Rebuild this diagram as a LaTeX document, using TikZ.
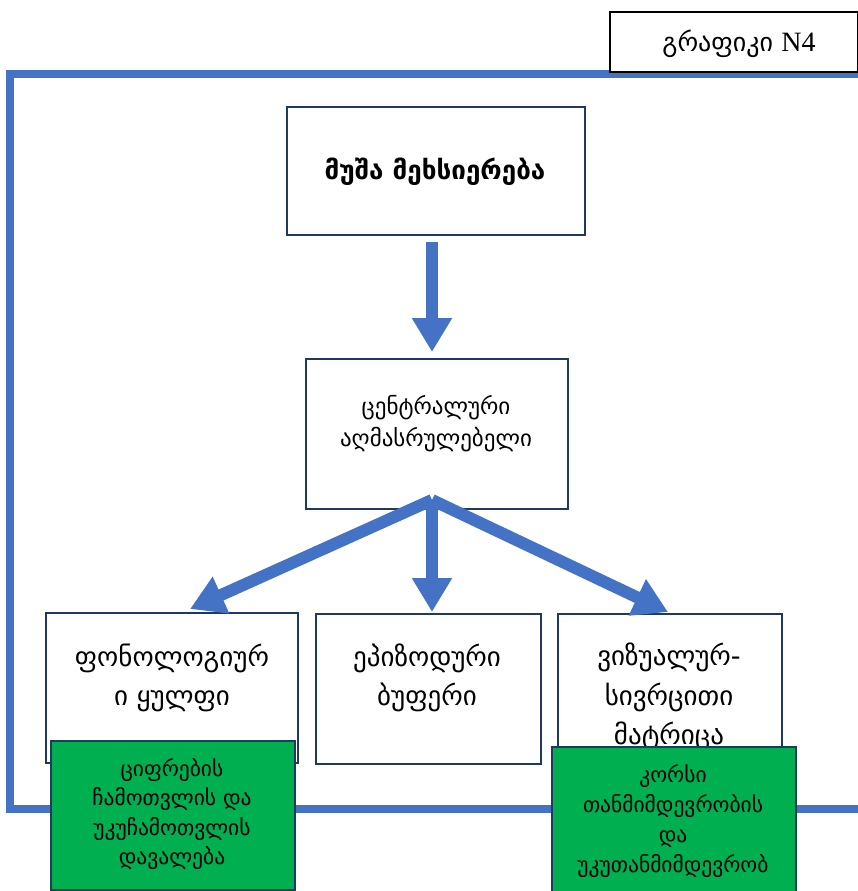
\documentclass[tikz,border=0pt]{standalone}
\usepackage{fontspec}
\setmainfont{DejaVu Sans}
\newfontfamily\serifN{Liberation Serif}
\usetikzlibrary{arrows.meta}
\definecolor{fblue}{HTML}{4472C4}
\definecolor{navy}{HTML}{203864}
\definecolor{fgreen}{HTML}{00B050}
\begin{document}
\begin{tikzpicture}[x=1pt,y=-1pt,
  box/.style={draw=navy, line width=2pt, fill=white, inner sep=0pt, anchor=north west},
  gbox/.style={draw=navy, line width=2pt, fill=fgreen, inner sep=0pt, anchor=north west},
  bigarrow/.style={draw=fblue, line width=12pt, -{Triangle[length=34pt,width=38pt]}},
  txt/.style={align=center, inner sep=0pt, text=black}]
\useasboundingbox (0,0) rectangle (858,891);
\fill[white] (0,0) rectangle (858,891);
% frame
\draw[fblue, line width=8pt] (858,74) -- (10,74) -- (10,809) -- (858,809);
% title
\node[draw=black, line width=2pt, fill=white, minimum width=248pt, minimum height=60pt, anchor=north west] (title) at (609,11) {};
\node[txt, font=\fontsize{26}{30}\selectfont] (titlet) at (739,44) {გრაფიკი {\serifN\fontsize{28}{30}\selectfont N4}};
% top box
\node[box, minimum width=298pt, minimum height=128pt] (wm) at (286,106) {};
\node[txt, font=\bfseries\fontsize{26}{30}\selectfont] (wmt) at (435,172) {მუშა მეხსიერება};
% central
\node[box, minimum width=262pt, minimum height=150pt] (ce) at (305,358) {};
\node[txt, font=\fontsize{23}{32}\selectfont] (cet) at (436,424) {ცენტრალური\\აღმასრულებელი};
% bottom boxes
\node[box, minimum width=252pt, minimum height=150pt] (ph) at (45,612) {};
\node[txt, font=\fontsize{27}{39.5}\selectfont] (pht) at (172,678) {ფონოლოგიურ\\ი ყულფი};
\node[box, minimum width=225pt, minimum height=150pt] (ep) at (315,613) {};
\node[txt, font=\fontsize{27}{39.5}\selectfont] (ept) at (427,678) {ეპიზოდური\\ბუფერი};
\node[box, minimum width=224pt, minimum height=152pt] (vs) at (557,613) {};
\node[txt, font=\fontsize{27}{39.5}\selectfont] (vst) at (669,697) {ვიზუალურ-\\სივრცითი\\მატრიცა};
% arrows
\coordinate (a1s) at (432,242);
\coordinate (a1e) at (432,352);
\draw[bigarrow] (a1s) -- (a1e);
\coordinate (c0) at (432,500);
\coordinate (tl) at (190,609);
\coordinate (tm) at (432,612);
\coordinate (tr) at (668,612);
\draw[bigarrow] (c0) -- (tl);
\draw[bigarrow] (c0) -- (tm);
\draw[bigarrow] (c0) -- (tr);
% green boxes
\node[gbox, minimum width=244pt, minimum height=149pt] (g1) at (50,740) {};
\node[txt, font=\fontsize{21.5}{29.5}\selectfont] (g1t) at (172,814) {ციფრების\\ჩამოთვლის და\\უკუჩამოთვლის\\დავალება};
\node[gbox, minimum width=244pt, minimum height=150pt] (g2) at (551,746) {};
\node[txt, font=\fontsize{21.5}{30}\selectfont] (g2t) at (673,821) {კორსი\\თანმიმდევრობის\\და\\უკუთანმიმდევრობ};
\end{tikzpicture}
\end{document}
